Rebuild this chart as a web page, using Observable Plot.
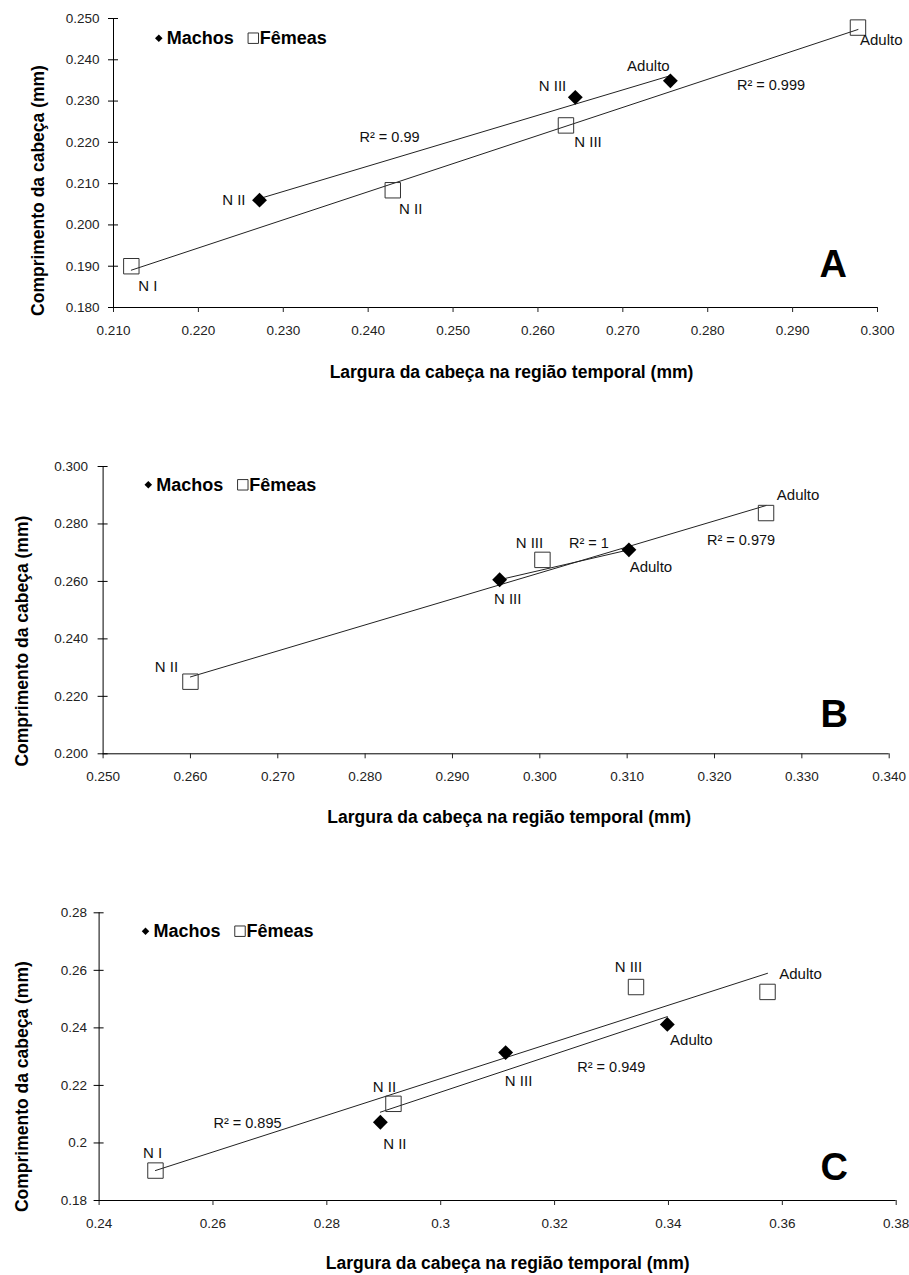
<!DOCTYPE html>
<html>
<head>
<meta charset="utf-8">
<script src="https://cdn.jsdelivr.net/npm/d3@7"></script>
<script src="https://cdn.jsdelivr.net/npm/@observablehq/plot@0.6"></script>
<style>
  body { margin: 0; background: #fff; width: 909px; }
  #chart svg { display: block; }
</style>
</head>
<body>
<div id="chart"></div>
<script>
// ---------------- DATA ----------------
const seriesNames = ["Machos", "Fêmeas"];
const xTitle = "Largura da cabeça na região temporal (mm)";
const yTitle = "Comprimento da cabeça (mm)";

// Panel A
const aMachosStage = ["N II", "N III", "Adulto"];
const aMachosX = [0.2272, 0.2644, 0.2756];
const aMachosY = [0.2060, 0.2309, 0.2349];
const aFemeasStage = ["N I", "N II", "N III", "Adulto"];
const aFemeasX = [0.2121, 0.2429, 0.2633, 0.2977];
const aFemeasY = [0.1900, 0.2084, 0.2241, 0.2478];
const aR2 = ["R² = 0.99", "R² = 0.999"];
const aXTicks = [0.21, 0.22, 0.23, 0.24, 0.25, 0.26, 0.27, 0.28, 0.29, 0.30];
const aXTickLabels = ["0.210", "0.220", "0.230", "0.240", "0.250", "0.260", "0.270", "0.280", "0.290", "0.300"];
const aYTicks = [0.18, 0.19, 0.20, 0.21, 0.22, 0.23, 0.24, 0.25];
const aYTickLabels = ["0.180", "0.190", "0.200", "0.210", "0.220", "0.230", "0.240", "0.250"];

// Panel B
const bMachosStage = ["N III", "Adulto"];
const bMachosX = [0.2954, 0.3102];
const bMachosY = [0.2606, 0.2710];
const bFemeasStage = ["N II", "N III", "Adulto"];
const bFemeasX = [0.2600, 0.3003, 0.3259];
const bFemeasY = [0.2251, 0.2675, 0.2838];
const bR2 = ["R² = 1", "R² = 0.979"];
const bXTicks = [0.25, 0.26, 0.27, 0.28, 0.29, 0.30, 0.31, 0.32, 0.33, 0.34];
const bXTickLabels = ["0.250", "0.260", "0.270", "0.280", "0.290", "0.300", "0.310", "0.320", "0.330", "0.340"];
const bYTicks = [0.20, 0.22, 0.24, 0.26, 0.28, 0.30];
const bYTickLabels = ["0.200", "0.220", "0.240", "0.260", "0.280", "0.300"];

// Panel C
const cMachosStage = ["N II", "N III", "Adulto"];
const cMachosX = [0.2894, 0.3114, 0.3398];
const cMachosY = [0.2072, 0.2314, 0.2412];
const cFemeasStage = ["N I", "N II", "N III", "Adulto"];
const cFemeasX = [0.2499, 0.2917, 0.3343, 0.3574];
const cFemeasY = [0.1904, 0.2136, 0.2542, 0.2525];
const cR2 = ["R² = 0.895", "R² = 0.949"];
const cXTicks = [0.24, 0.26, 0.28, 0.30, 0.32, 0.34, 0.36, 0.38];
const cXTickLabels = ["0.24", "0.26", "0.28", "0.3", "0.32", "0.34", "0.36", "0.38"];
const cYTicks = [0.18, 0.20, 0.22, 0.24, 0.26, 0.28];
const cYTickLabels = ["0.18", "0.2", "0.22", "0.24", "0.26", "0.28"];

// ---------------- LAYOUT (label placement, styles) ----------------
const FONT = "'Liberation Sans', Arial, sans-serif";

const panels = [
  {
    letter: "A", height: 420,
    margin: {top: 18, right: 32, bottom: 113, left: 113},
    xDomain: [0.21, 0.30], yDomain: [0.18, 0.25],
    xTicks: aXTicks, xTickLabels: aXTickLabels, yTicks: aYTicks, yTickLabels: aYTickLabels,
    yPad: 14,
    machos: {stage: aMachosStage, x: aMachosX, y: aMachosY,
      lab: [[-14, 0, "end"], [-9, -11, "end"], [-22, -15, "middle"]]},
    femeas: {stage: aFemeasStage, x: aFemeasX, y: aFemeasY,
      lab: [[16.5, 20, "middle"], [18, 19.4, "middle"], [22, 17, "middle"], [2, 13, "start"]]},
    r2: aR2,
    r2Pos: [["machos", 0, 130, -62.6], ["femeas", 3, -87, 58]],
    legend: {dx: 45.3, dy: 19.7},
    xTitle: {dx: 16, dy: 65}, yTitle: {dx: -75, dy: 27.5},
    letterPos: {dx: -44.3, dy: -42.5}
  },
  {
    letter: "B", height: 440,
    margin: {top: 46, right: 20.3, bottom: 106.7, left: 102.6},
    xDomain: [0.25, 0.34], yDomain: [0.20, 0.30],
    xTicks: bXTicks, xTickLabels: bXTickLabels, yTicks: bYTicks, yTickLabels: bYTickLabels,
    yPad: 15,
    machos: {stage: bMachosStage, x: bMachosX, y: bMachosY,
      lab: [[8, 19, "middle"], [22, 17, "middle"]]},
    femeas: {stage: bFemeasStage, x: bFemeasX, y: bFemeasY,
      lab: [[-24, -15, "middle"], [-13, -17, "middle"], [32, -18, "middle"]]},
    r2: bR2,
    r2Pos: [["machos", 1, -40, -6.6], ["femeas", 2, -25, 27]],
    legend: {dx: 45.2, dy: 18.3},
    xTitle: {dx: 13, dy: 63.4}, yTitle: {dx: -81, dy: 31},
    letterPos: {dx: -55, dy: -38.5}
  },
  {
    letter: "C", height: 415,
    margin: {top: 52.3, right: 13.3, bottom: 75, left: 98.6},
    xDomain: [0.24, 0.38], yDomain: [0.18, 0.28],
    xTicks: cXTicks, xTickLabels: cXTickLabels, yTicks: cYTicks, yTickLabels: cYTickLabels,
    yPad: 12,
    machos: {stage: cMachosStage, x: cMachosX, y: cMachosY,
      lab: [[14.5, 21.6, "middle"], [13, 29, "middle"], [24, 16, "middle"]]},
    femeas: {stage: cFemeasStage, x: cFemeasX, y: cFemeasY,
      lab: [[-3, -17, "middle"], [-9, -17, "middle"], [-7.6, -19.4, "middle"], [33, -17.4, "middle"]]},
    r2: cR2,
    r2Pos: [["femeas", 0, 92, -47], ["machos", 2, -56, 43]],
    legend: {dx: 46.4, dy: 18.4},
    xTitle: {dx: 10, dy: 63.3}, yTitle: {dx: -77, dy: 30},
    letterPos: {dx: -62, dy: -33}
  }
];

function rowsOf(name, s) {
  return s.x.map((x, i) => ({sex: name, stage: s.stage[i], x, y: s.y[i]}));
}

function buildPanel(p) {
  const machos = rowsOf(seriesNames[0], p.machos);
  const femeas = rowsOf(seriesNames[1], p.femeas);
  const all = machos.concat(femeas);
  const groups = {machos, femeas};

  const pointLabels = [];
  [["machos", p.machos.lab], ["femeas", p.femeas.lab]].forEach(([key, labs]) => {
    groups[key].forEach((d, i) => {
      const [dx, dy, anchor] = labs[i];
      pointLabels.push(Plot.text([d], {
        x: "x", y: "y", text: "stage", dx, dy, textAnchor: anchor, lineAnchor: "middle",
        fontSize: 15, fill: "#111"
      }));
    });
  });

  const r2Labels = p.r2Pos.map(([key, idx, dx, dy], k) =>
    Plot.text([groups[key][idx]], {
      x: "x", y: "y", text: () => p.r2[k], dx, dy, textAnchor: "middle", lineAnchor: "middle",
      fontSize: 14.5, fill: "#111"
    })
  );

  const fmt = (ticks, labels) => d => labels[ticks.indexOf(d)];
  const L = p.legend;

  return Plot.plot({
    width: 909,
    height: p.height,
    marginTop: p.margin.top,
    marginRight: p.margin.right,
    marginBottom: p.margin.bottom,
    marginLeft: p.margin.left,
    style: {fontFamily: FONT, background: "#fff", color: "#000", overflow: "visible"},
    x: {domain: p.xDomain},
    y: {domain: p.yDomain},
    marks: [
      // axis lines
      Plot.ruleX([p.xDomain[0]], {stroke: "#000", strokeWidth: 1}),
      Plot.ruleY([p.yDomain[0]], {stroke: "#000", strokeWidth: 1}),
      // x axis
      Plot.axisX({ticks: p.xTicks, tickFormat: fmt(p.xTicks, p.xTickLabels), tickSize: 5, tickPadding: 13,
        fontSize: 13.5, label: null, color: "#222"}),
      // y axis crossing ticks
      Plot.axisY({ticks: p.yTicks, tickFormat: () => "", tickSize: 10, dx: 5, label: null, stroke: "#000"}),
      Plot.axisY({ticks: p.yTicks, tickFormat: fmt(p.yTicks, p.yTickLabels), tickSize: 0, tickPadding: p.yPad,
        fontSize: 13.5, label: null, fill: "#222"}),
      // trend lines
      Plot.linearRegressionY(all, {x: "x", y: "y", z: "sex", stroke: "#222", strokeWidth: 1, ci: 0}),
      // points
      Plot.dot(femeas, {x: "x", y: "y", symbol: "square", r: 8.7, stroke: "#333", strokeWidth: 1, fill: "none"}),
      Plot.dot(machos, {x: "x", y: "y", symbol: "diamond2", r: 6.7, fill: "#000", stroke: "none"}),
      ...pointLabels,
      ...r2Labels,
      // legend
      Plot.dot([seriesNames[0]], {frameAnchor: "top-left", dx: L.dx, dy: L.dy, symbol: "diamond2", r: 3.4, fill: "#000", stroke: "none"}),
      Plot.text([seriesNames[0]], {frameAnchor: "top-left", dx: L.dx + 8, dy: L.dy, text: d => d,
        textAnchor: "start", lineAnchor: "middle", fontSize: 18, fontWeight: "bold", fill: "#000"}),
      Plot.dot([seriesNames[1]], {frameAnchor: "top-left", dx: L.dx + 94.5, dy: L.dy, symbol: "square", r: 5.9, stroke: "#333", strokeWidth: 1, fill: "none"}),
      Plot.text([seriesNames[1]], {frameAnchor: "top-left", dx: L.dx + 101, dy: L.dy, text: d => d,
        textAnchor: "start", lineAnchor: "middle", fontSize: 18, fontWeight: "bold", fill: "#000"}),
      // axis titles
      Plot.text([xTitle], {frameAnchor: "bottom", dx: p.xTitle.dx, dy: p.xTitle.dy, text: d => d,
        textAnchor: "middle", lineAnchor: "middle", fontSize: 17.5, fontWeight: "bold", fill: "#000"}),
      Plot.text([yTitle], {frameAnchor: "left", dx: p.yTitle.dx, dy: p.yTitle.dy, text: d => d, rotate: -90,
        textAnchor: "middle", lineAnchor: "middle", fontSize: 17.5, fontWeight: "bold", fill: "#000"}),
      // panel letter
      Plot.text([p.letter], {frameAnchor: "bottom-right", dx: p.letterPos.dx, dy: p.letterPos.dy, text: d => d,
        textAnchor: "middle", lineAnchor: "middle", fontSize: 38, fontWeight: "bold", fill: "#000"})
    ]
  });
}

const root = document.getElementById("chart");
panels.forEach(p => root.appendChild(buildPanel(p)));
</script>
</body>
</html>
